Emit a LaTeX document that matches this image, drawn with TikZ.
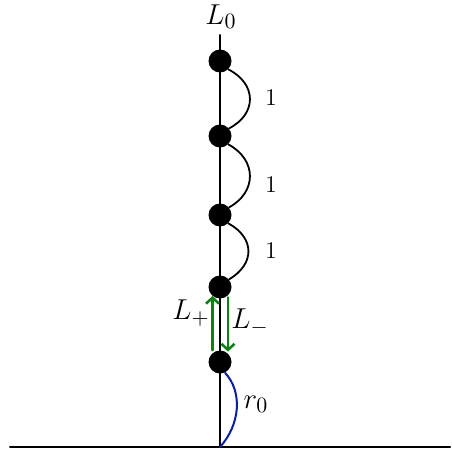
\documentclass[tikz,border=0pt]{standalone}
\usepackage{amsmath}
\usetikzlibrary{arrows.meta,calc}
\usetikzlibrary{positioning}
\usepackage{xcolor}
\definecolor{arrowgreen}{RGB}{10,130,20}
\definecolor{curveblue}{RGB}{10,30,160}

\begin{document}
\begin{tikzpicture}[x=0.5pt, y=-0.5pt, line cap=round, line join=round,
  dot/.style={circle, fill=black, inner sep=0pt, minimum size=11.5pt},
  hop/.style={line width=0.9pt},
  move/.style={arrowgreen, line width=1.3pt, -{Straight Barb[length=3pt,width=6.5pt]}},
  biglabel/.style={font=\fontsize{15}{18}\selectfont, inner sep=0pt},
  unitlabel/.style={font=\fontsize{12}{14}\selectfont, inner sep=0pt}]
  \useasboundingbox (0,0) rectangle (451,454);

  % Points
  \coordinate (top) at (220,35);
  \coordinate (g) at (220,447);
  \coordinate (gl) at (10,447);
  \coordinate (gr) at (450,447);
  \node[dot] (v0) at (220,61) {};
  \node[dot] (v1) at (220,136) {};
  \node[dot] (v2) at (220,215) {};
  \node[dot] (v3) at (220,287) {};
  \node[dot] (v4) at (220,362) {};

  % Ground and vertical line
  \draw[line width=1pt] (gl) -- (gr);
  \draw[line width=1pt] (top) -- (g);

  % Unit hops
  \draw[hop] (v0.-45) .. controls (257,84) and (257,114) .. (v1.40);
  \draw[hop] (v1.-45) .. controls (257,160) and (257,192) .. (v2.40);
  \draw[hop] (v2.-45) .. controls (255,238) and (255,264) .. (v3.40);

  % Blue segment to the ground
  \draw[curveblue, line width=1pt] (v4.-65) .. controls (243,392) and (240,425) .. (g);

  % Green arrows
  \draw[move] ([xshift=-3.75pt]v4.north) -- ([xshift=-3.75pt,yshift=1.5pt]v3.south);
  \draw[move] ([xshift=4pt,yshift=0.75pt]v3.south) -- ([xshift=4pt,yshift=-0.75pt]v4.north);

  % Labels
  \node[biglabel] at (221,17) {$L_0$};
  \node[unitlabel] at (271,98) {$1$};
  \node[unitlabel] at (271,185) {$1$};
  \node[unitlabel] at (271,251) {$1$};
  \node[biglabel] at (191,313) {$L_+$};
  \node[biglabel] at (250,322) {$L_-$};
  \node[biglabel] at (256,404) {$r_0$};
\end{tikzpicture}
\end{document}
